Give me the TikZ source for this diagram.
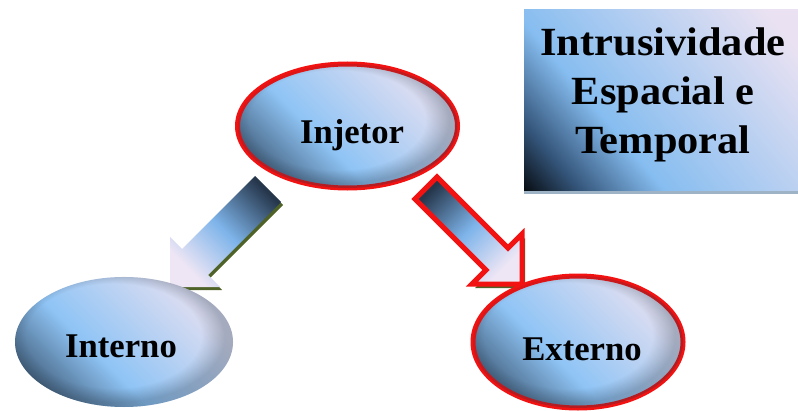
\documentclass[tikz,border=0pt]{standalone}
\usepackage{fontspec}
\setmainfont{Liberation Serif}
\newfontfamily\titlefont[FakeStretch=1.06]{Liberation Serif}
\usetikzlibrary{shapes.geometric,fadings}

\definecolor{ovdk}{HTML}{3E5A76}
\definecolor{ovmid}{HTML}{8FC4F5}
\definecolor{ovlt}{HTML}{DCDDF1}
\definecolor{bxmid}{HTML}{86BDF0}
\definecolor{bxlt}{HTML}{EAE2F2}
\definecolor{bxdk}{HTML}{34557A}
\definecolor{ardk}{HTML}{26374C}
\definecolor{armid}{HTML}{7EB4EA}
\definecolor{arlt}{HTML}{EEE6F5}
\definecolor{rimred}{HTML}{F21212}
\definecolor{olivesh}{HTML}{4F6228}
\definecolor{boxsh}{HTML}{9FB3C7}

% diagonal gloss for the ovals
\pgfdeclarehorizontalshading{ovalshade}{100bp}{color(0bp)=(ovdk); color(22bp)=(ovdk); color(42bp)=(ovmid); color(72bp)=(ovlt); color(100bp)=(ovlt)}
% title box: black corner to lavender corner
\pgfdeclarehorizontalshading{boxshade}{100bp}{color(0bp)=(black); color(13bp)=(black); color(24bp)=(bxdk); color(38bp)=(bxmid); color(80bp)=(bxlt); color(100bp)=(bxlt)}
% block arrows: dark tail, light head
\pgfdeclarehorizontalshading{arrshade}{100bp}{color(0bp)=(ardk); color(24bp)=(ardk); color(50bp)=(armid); color(74bp)=(arlt); color(100bp)=(arlt)}
% slightly darker rim towards the lower right of each oval
\pgfdeclareradialshading{rimfadeshade}{\pgfpoint{-4bp}{4bp}}{color(0bp)=(pgftransparent!100); color(20bp)=(pgftransparent!100); color(25bp)=(pgftransparent!70); color(50bp)=(pgftransparent!70)}
\pgfdeclarefading{rimfade}{\pgfuseshading{rimfadeshade}}

\begin{document}
\begin{tikzpicture}[x=0.75pt,y=-0.75pt,
  oval/.style={ellipse, inner sep=0pt, shading=ovalshade, shading angle=45,
    postaction={fill=ovdk!60!black, path fading=rimfade, fit fading=true}},
  redrim/.style={draw=rimred, line width=3.75pt},
  lbl/.style={font=\fontsize{26}{30}\selectfont\bfseries, inner sep=0pt, anchor=base},
  arrowrim/.style={draw=rimred, line width=3.75pt, line join=miter}]
\useasboundingbox (0,0) rectangle (798,410);

% title box with its shadow
\node[rectangle, inner sep=0pt, minimum width=205.5pt, minimum height=135pt,
  shading=boxshade, shading angle=40] (box) at (661,100) {};
\fill[boxsh] ([shift={(0,1)}]box.south west) rectangle ([shift={(3,4)}]box.south east);
\node[inner sep=0pt, align=center, font=\titlefont\fontsize{30}{37}\selectfont\bfseries]
  (title) at (663,95) {Intrusividade\\Espacial e\\Temporal};

% arrow towards Interno
\fill[olivesh] (172,290) -- (172,240) -- (184,252) -- (257,179) -- (283,205) -- (210,278) -- (222,290) -- cycle;
\shade[shading=arrshade, shading angle=225]
  (170,287) -- (170,237) -- (182,249) -- (255,176) -- (281,202) -- (208,275) -- (220,287) -- cycle;

% arrow towards Externo
\fill[olivesh] (525,288) -- (525,238) -- (511,252) -- (440,181) -- (418,203) -- (489,274) -- (475,288) -- cycle;
\shade[shading=arrshade, shading angle=315, arrowrim]
  (522,284) -- (522,234) -- (508,248) -- (437,177) -- (415,199) -- (486,270) -- (472,284) -- cycle;

% ovals
\node[oval, redrim, minimum width=165pt, minimum height=93pt] (inj) at (347.5,126) {};
\node[oval, minimum width=163.5pt, minimum height=97.5pt] (int) at (124,342) {};
\node[oval, redrim, minimum width=157.5pt, minimum height=99pt] (ext) at (578,342) {};

\node[lbl] (injl) at (352,143) {Injetor};
\node[lbl] (intl) at (121,357) {Interno};
\node[lbl] (extl) at (582,360) {Externo};
\end{tikzpicture}
\end{document}
